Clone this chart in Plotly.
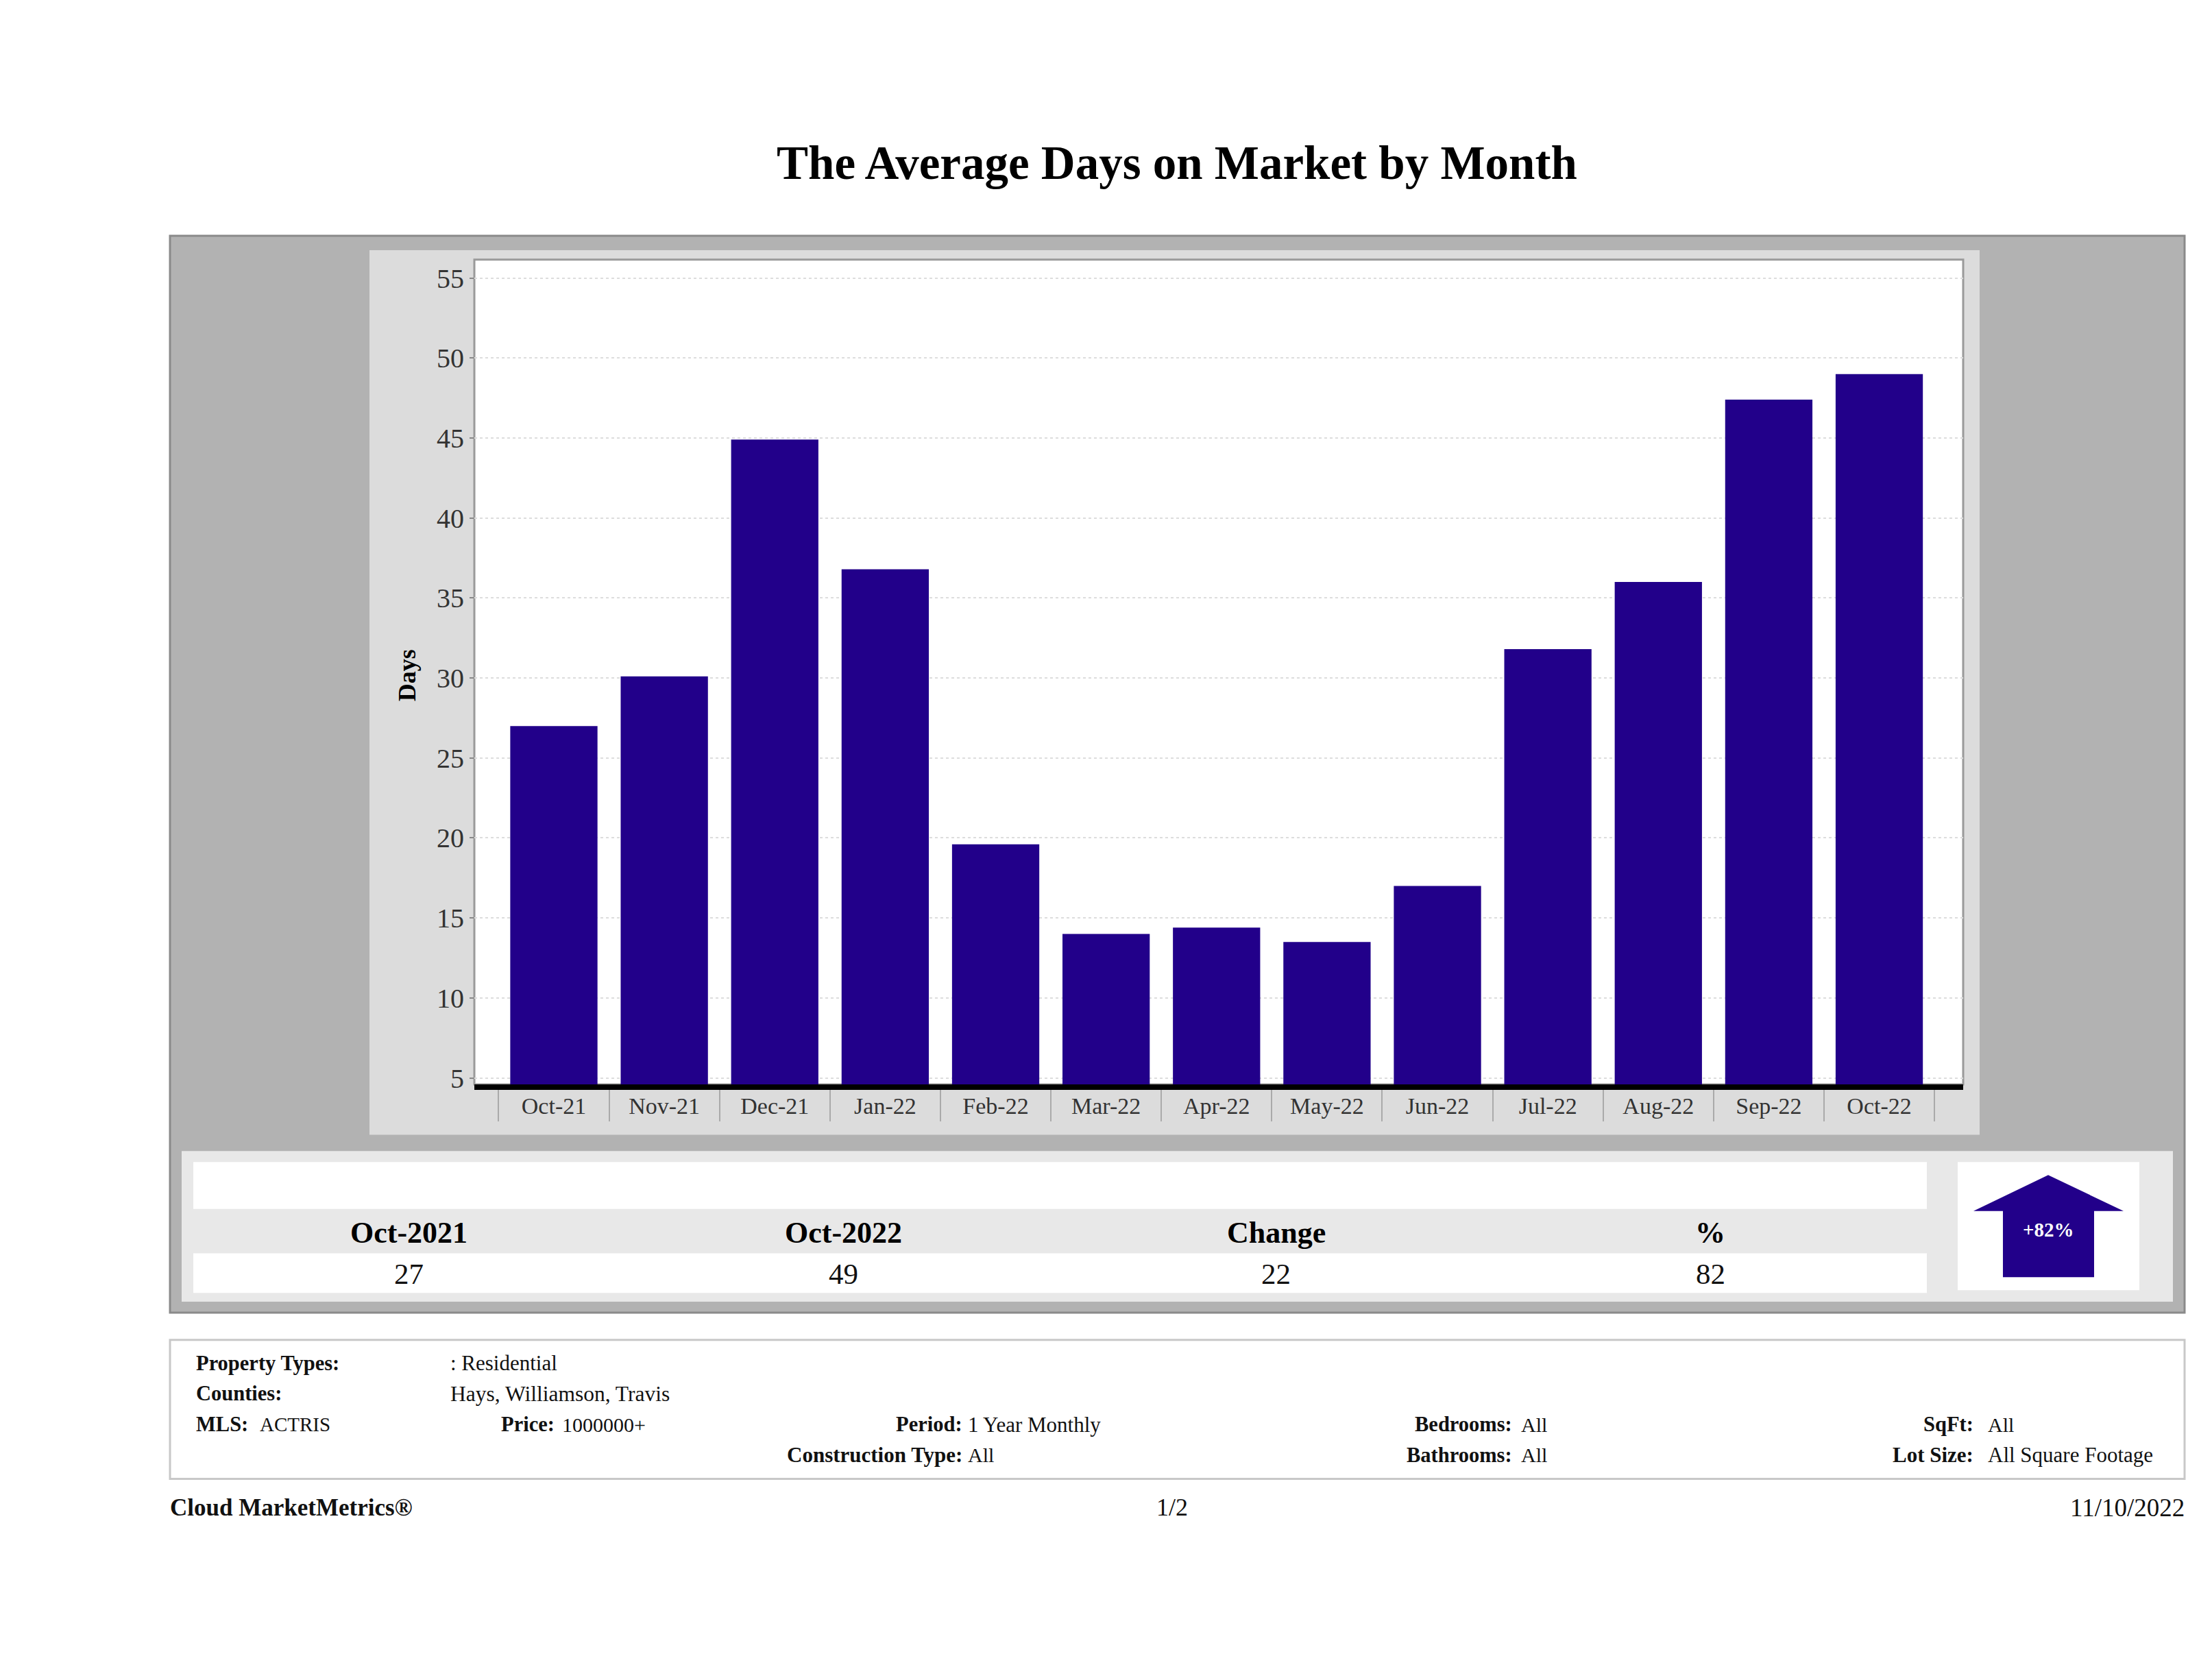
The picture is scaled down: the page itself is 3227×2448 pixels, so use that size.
import plotly.graph_objects as go

months = ["Oct-21","Nov-21","Dec-21","Jan-22","Feb-22","Mar-22","Apr-22","May-22","Jun-22","Jul-22","Aug-22","Sep-22","Oct-22"]
days = [27, 30.1, 44.9, 36.8, 19.6, 14, 14.4, 13.5, 17, 31.8, 36, 47.4, 49]
y_ticks = [5,10,15,20,25,30,35,40,45,50,55]
table_headers = ["Oct-2021","Oct-2022","Change","%"]
table_values = ["27","49","22","82"]

W, H = 3227, 2448
SERIF = "Liberation Serif"
BAR = "#22008a"

def X(p): return p / W
def Y(p): return 1 - p / H

shapes = []
def rect(x0, y0, x1, y1, fill, line=None, lw=0):
    shapes.append(dict(type="rect", xref="paper", yref="paper", x0=X(x0), x1=X(x1), y0=Y(y0), y1=Y(y1),
                       fillcolor=fill, line=dict(color=line or fill, width=lw), layer="below"))

rect(248, 346, 3187, 1926, "#b2b2b2", "#8a8a8a", 3)
rect(539, 367, 2888, 1665, "#dcdcdc")
rect(692, 381, 2864, 1591, "#ffffff", "#9a9a9a", 3)
rect(265, 1689, 3170, 1910, "#e8e8e8")
rect(282, 1705, 2811, 1774, "#ffffff")
rect(282, 1839, 2811, 1897, "#ffffff")
rect(2856, 1705, 3121, 1893, "#ffffff")
rect(248, 1966, 3187, 2170, "#ffffff", "#c8c8c8", 3)

arrow = [(2988,1724),(3098,1777),(3055,1777),(3055,1874),(2922,1874),(2922,1777),(2879,1777)]
shapes.append(dict(type="path", xref="paper", yref="paper",
    path="M " + " L ".join(f"{X(a):.5f},{Y(b):.5f}" for a, b in arrow) + " Z",
    fillcolor=BAR, line=dict(width=0), layer="below"))

ann = []
def text(s, x, y, size, bold=False, anchor="left", color="#111111", angle=0):
    dx = {"left": -2, "right": 2, "center": 0}[anchor]
    ann.append(dict(text=f"<b>{s}</b>" if bold else s, x=X(x + dx), y=Y(y), xref="paper", yref="paper",
                    xanchor=anchor, yanchor="middle", showarrow=False, textangle=angle,
                    font=dict(family=SERIF, size=size, color=color)))

text("The Average Days on Market by Month", 1717, 239, 69, True, "center", "#000000")
text("Days", 594, 991, 36, True, "center", "#000000", -90)
for s, cx in zip(table_headers, [596, 1230, 1862, 2495]):
    text(s, cx, 1809, 44, True, "center", "#000000")
for s, cx in zip(table_values, [596, 1230, 1862, 2495]):
    text(s, cx, 1869, 43, False, "center")
text("+82%", 2988, 1804, 29, True, "center", "#ffffff")

text("Property Types:", 286, 2000, 30.5, True)
text(": Residential", 657, 2000, 31)
text("Counties:", 286, 2045, 30.5, True)
text("Hays, Williamson, Travis", 657, 2045, 31.5)
text("MLS:", 286, 2090, 30.5, True)
text("ACTRIS", 379, 2090, 29)
text("Price:", 731, 2090, 30.5, True)
text("1000000+", 820, 2090, 30)
text("Period:", 1404, 2090, 30.5, True, "right")
text("1 Year Monthly", 1412, 2090, 31)
text("Construction Type:", 1404, 2135, 31, True, "right")
text("All", 1412, 2135, 30)
text("Bedrooms:", 2206, 2090, 30.5, True, "right")
text("All", 2219, 2090, 30)
text("Bathrooms:", 2206, 2135, 30.5, True, "right")
text("All", 2219, 2135, 30)
text("SqFt:", 2879, 2090, 30.5, True, "right")
text("All", 2900, 2090, 30)
text("Lot Size:", 2879, 2135, 31, True, "right")
text("All Square Footage", 2900, 2135, 31)
text("Cloud MarketMetrics®", 248, 2212, 35, True)
text("1/2", 1710, 2212, 36, False, "center")
text("11/10/2022", 3187, 2212, 37, False, "right")

fig = go.Figure(go.Bar(x=months, y=days, marker=dict(color=BAR, line=dict(width=0)), width=0.79))
fig.update_layout(
    width=W, height=H, margin=dict(l=0, r=0, t=0, b=0), autosize=False,
    paper_bgcolor="#ffffff", plot_bgcolor="rgba(0,0,0,0)", showlegend=False,
    shapes=shapes, annotations=ann,
    font=dict(family=SERIF),
    xaxis=dict(domain=[692/W, 2864/W], type="category", categoryorder="array", categoryarray=months,
               range=[-0.72, 12.76], tickson="boundaries", ticks="outside", ticklen=46, tickwidth=2,
               tickcolor="#aaaaaa", ticklabelstandoff=-6, tickfont=dict(family=SERIF, size=34, color="#333333"),
               showline=True, linecolor="#000000", linewidth=8, showgrid=False, tickangle=0, zeroline=False),
    yaxis=dict(domain=[1-1591/H, 1-381/H], range=[4.6, 56.15], tickmode="array", tickvals=y_ticks,
               ticks="outside", ticklen=6, tickwidth=2, tickcolor="#888888",
               tickfont=dict(family=SERIF, size=40, color="#333333"),
               showline=False, showgrid=True, gridcolor="#dddddd", gridwidth=1.5, griddash="4px,4px", zeroline=False),
)
fig.write_html("out.html", config={"displayModeBar": False},
               post_script="document.body.style.margin='0';document.body.style.overflow='hidden';")
